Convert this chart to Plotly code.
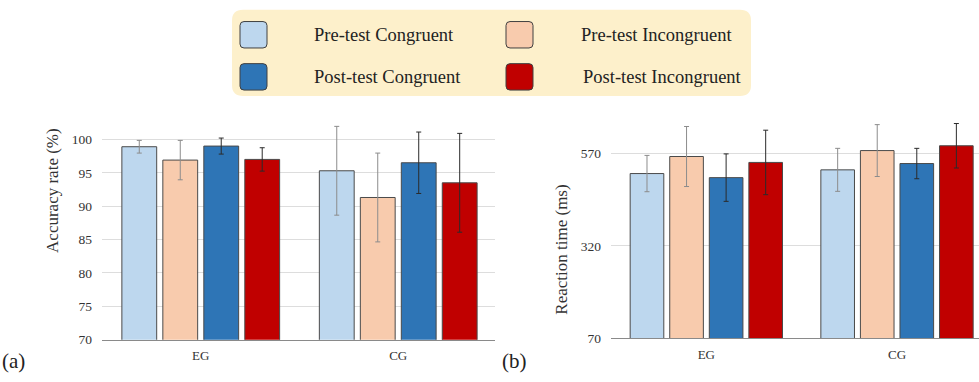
import plotly.graph_objects as go

# ---- data ----
groups = ["EG", "CG"]
series_names = ["Pre-test Congruent", "Pre-test Incongruent",
                "Post-test Congruent", "Post-test Incongruent"]
series_colors = ["#BDD7EE", "#F8CBAD", "#2E75B6", "#C00000"]
err_colors = ["#8C8C8C", "#8C8C8C", "#2B2B2B", "#2B2B2B"]

# accuracy rate (%)
acc_pre_cong = [98.9, 95.3]
acc_pre_cong_err = [0.95, 6.65]
acc_pre_inc = [96.9, 91.3]
acc_pre_inc_err = [2.95, 6.65]
acc_post_cong = [99.0, 96.5]
acc_post_cong_err = [1.2, 4.6]
acc_post_inc = [97.0, 93.5]
acc_post_inc_err = [1.75, 7.4]

# reaction time (ms)
rt_pre_cong = [515, 525]
rt_pre_cong_err = [49, 58]
rt_pre_inc = [561, 577]
rt_pre_inc_err = [81, 70]
rt_post_cong = [504, 542]
rt_post_cong_err = [64, 41]
rt_post_inc = [545, 590]
rt_post_inc_err = [87, 60]

acc_tick_vals = [70, 75, 80, 85, 90, 95, 100]
rt_tick_vals = [70, 320, 570]

W, H = 979, 382
FONT = "Liberation Serif"


def px(x):
    return x / W


def py(y):
    return 1 - y / H


acc_series = [(acc_pre_cong, acc_pre_cong_err), (acc_pre_inc, acc_pre_inc_err),
              (acc_post_cong, acc_post_cong_err), (acc_post_inc, acc_post_inc_err)]
rt_series = [(rt_pre_cong, rt_pre_cong_err), (rt_pre_inc, rt_pre_inc_err),
             (rt_post_cong, rt_post_cong_err), (rt_post_inc, rt_post_inc_err)]

fig = go.Figure()

for i, (vals, errs) in enumerate(acc_series):
    fig.add_trace(go.Bar(
        x=groups, y=vals, name=series_names[i], xaxis="x", yaxis="y",
        marker=dict(color=series_colors[i], line=dict(color="#4A4A4A", width=1)),
        error_y=dict(type="data", array=errs, visible=True,
                     color=err_colors[i], thickness=1, width=2.5),
        offsetgroup=str(i), showlegend=False))

for i, (vals, errs) in enumerate(rt_series):
    fig.add_trace(go.Bar(
        x=groups, y=vals, name=series_names[i], xaxis="x2", yaxis="y2",
        marker=dict(color=series_colors[i], line=dict(color="#4A4A4A", width=1)),
        error_y=dict(type="data", array=errs, visible=True,
                     color=err_colors[i], thickness=1, width=2.5),
        offsetgroup=str(i), showlegend=False))

axis_common = dict(
    showline=True, linecolor="#8A8A8A", linewidth=1,
    ticks="", showgrid=False, zeroline=False,
    tickfont=dict(family=FONT, size=13, color="#333333"),
    fixedrange=True,
)
yaxis_common = dict(
    showline=False, ticks="", showgrid=True, gridcolor="#DDDDDD", gridwidth=1,
    zeroline=False, tickfont=dict(family=FONT, size=13.5, color="#333333"),
    ticklabelstandoff=9,
)

fig.update_layout(
    width=W, height=H,
    margin=dict(l=0, r=0, t=0, b=0),
    paper_bgcolor="white", plot_bgcolor="white",
    barmode="group", bargap=0.17, bargroupgap=0.15,
    xaxis=dict(domain=[px(102), px(495)], range=[-0.5, 1.49], anchor="y",
               ticklabelstandoff=4, **axis_common),
    yaxis=dict(domain=[py(347), py(126)], range=[70, 102.4], anchor="x",
               tickvals=acc_tick_vals, **yaxis_common),
    xaxis2=dict(domain=[px(611), 1.0], range=[-0.5, 1.43], anchor="y2",
                ticklabelstandoff=4, **axis_common),
    yaxis2=dict(domain=[py(345.7), py(122)], range=[70, 661], anchor="x2",
                tickvals=rt_tick_vals, **yaxis_common),
)

# y-axis titles
fig.add_annotation(text="Accuracy rate (%)", x=px(53), y=py(195), xref="paper", yref="paper",
                   textangle=-90, showarrow=False, xanchor="center", yanchor="middle",
                   font=dict(family=FONT, size=17, color="#333333"))
fig.add_annotation(text="Reaction time (ms)", x=px(562), y=py(255), xref="paper", yref="paper",
                   textangle=-90, showarrow=False, xanchor="center", yanchor="middle",
                   font=dict(family=FONT, size=17, color="#333333"))

# panel letters
for lbl, xx in [("(a)", 0), ("(b)", 500)]:
    fig.add_annotation(text=lbl, x=px(xx), y=py(369), xref="paper", yref="paper",
                       showarrow=False, xanchor="left", yanchor="middle",
                       font=dict(family=FONT, size=21, color="#222222"))


def rounded_rect(x0, y0, x1, y1, r):
    # pixel coords (top-left origin) -> rounded rectangle path in paper coords
    X0, X1 = px(x0), px(x1)
    Y0, Y1 = py(y1), py(y0)  # bottom, top
    rx, ry = r / W, r / H
    return (f"M {X0+rx},{Y0} L {X1-rx},{Y0} Q {X1},{Y0} {X1},{Y0+ry} "
            f"L {X1},{Y1-ry} Q {X1},{Y1} {X1-rx},{Y1} "
            f"L {X0+rx},{Y1} Q {X0},{Y1} {X0},{Y1-ry} "
            f"L {X0},{Y0+ry} Q {X0},{Y0} {X0+rx},{Y0} Z")


# legend panel
fig.add_shape(type="path", path=rounded_rect(232, 10, 751, 98, 11), xref="paper", yref="paper",
              fillcolor="#FDF0CB", line=dict(width=0), layer="below")

legend_pos = [(240, 22, 312), (506, 22, 579), (240, 65, 312), (506, 65, 581)]
for i, (sx, sy, tx) in enumerate(legend_pos):
    fig.add_shape(type="path", path=rounded_rect(sx, sy, sx + 27, sy + 27, 4),
                  xref="paper", yref="paper", fillcolor=series_colors[i],
                  line=dict(color="#404040", width=1))
    fig.add_annotation(text=series_names[i], x=px(tx), y=py(sy + 14), xref="paper", yref="paper",
                       showarrow=False, xanchor="left", yanchor="middle",
                       font=dict(family=FONT, size=18.5, color="#222222"))

fig.write_html("out.html")
